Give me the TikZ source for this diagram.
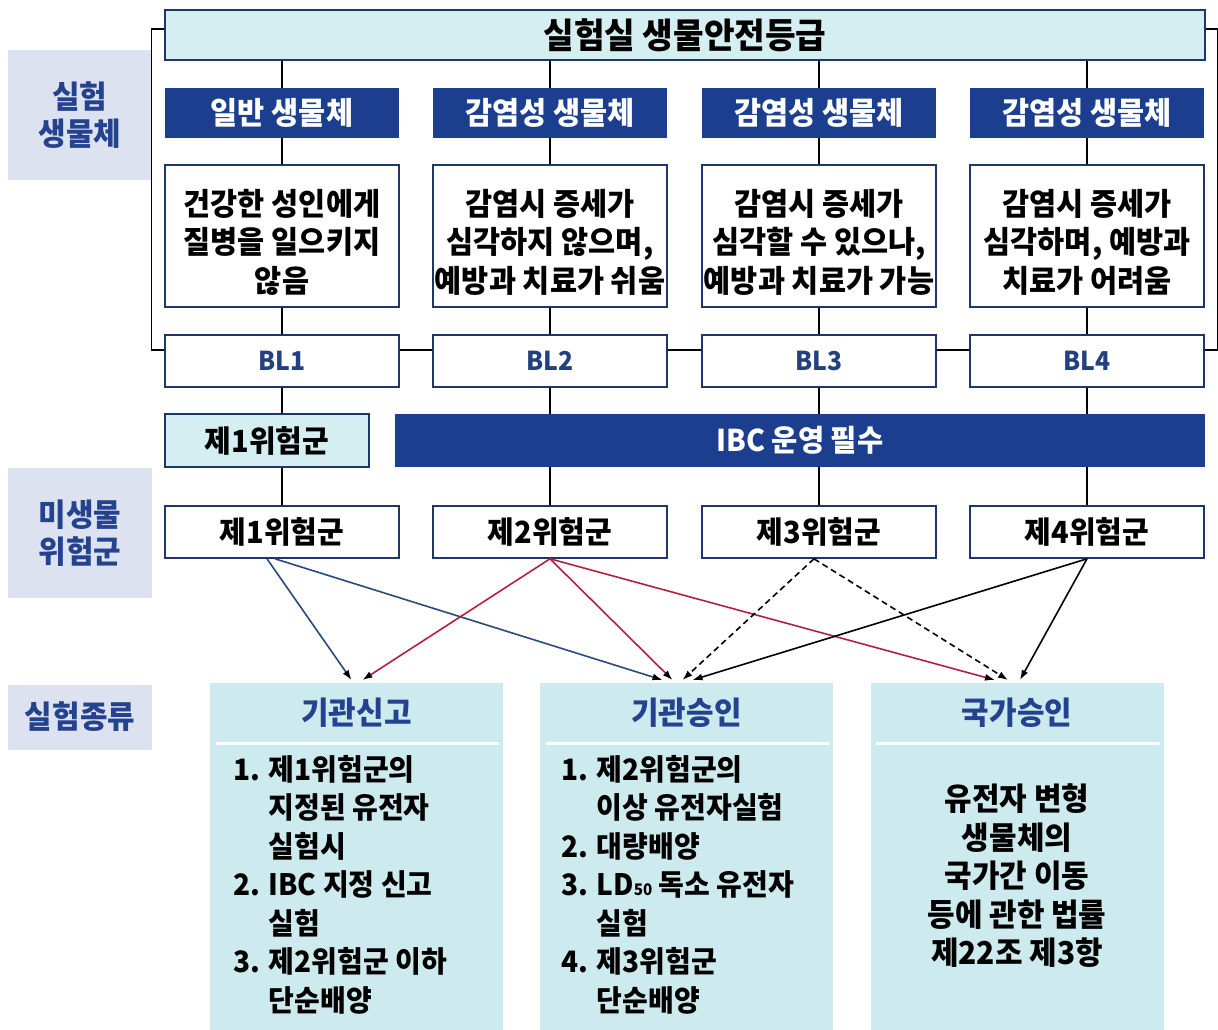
\documentclass[tikz,border=0pt]{standalone}
\usepackage{fontspec}
\setmainfont{Noto Sans CJK KR}[FakeStretch=0.95]
\usetikzlibrary{arrows.meta,calc}
\definecolor{navy}{HTML}{1B3E8F}
\definecolor{lightcyan}{HTML}{D5EEF2}
\definecolor{boxcyan}{HTML}{CDEBEE}
\definecolor{lav}{HTML}{DCE2EF}
\definecolor{labtext}{HTML}{24428E}
\definecolor{border}{HTML}{1E3668}
\definecolor{bltext}{HTML}{23407F}
\definecolor{arrblue}{HTML}{2B4A78}
\definecolor{arrred}{HTML}{B3213F}
\begin{document}
\begin{tikzpicture}[x=1pt,y=-1pt,
  every node/.style={font=\bfseries, inner sep=0pt},
  titlebox/.style={draw=border, line width=1.6pt, fill=lightcyan, minimum width=1040pt, minimum height=50pt, font=\bfseries\fontsize{35}{35}\selectfont},
  hdrbox/.style={fill=navy, text=white, minimum width=234pt, minimum height=50pt, font=\bfseries\fontsize{31}{31}\selectfont},
  descbox/.style={draw=border, line width=1.6pt, fill=white, minimum width=234pt, minimum height=142pt},
  desctext/.style={align=center, font=\bfseries\fontsize{31}{38.5}\selectfont},
  blbox/.style={draw=border, line width=1.6pt, fill=white, minimum width=234pt, minimum height=52pt, text=bltext, font=\bfseries\fontsize{26}{26}\selectfont},
  riskbox/.style={draw=border, line width=1.6pt, fill=white, minimum width=234pt, minimum height=52pt, font=\bfseries\fontsize{30.5}{30.5}\selectfont},
  labbox/.style={fill=lav, text=labtext, align=center, minimum width=144pt, font=\bfseries\fontsize{31.5}{37}\selectfont},
  bottombox/.style={fill=boxcyan, minimum width=293pt, minimum height=347pt, anchor=north},
  bothdr/.style={text=labtext, font=\bfseries\fontsize{31.5}{31.5}\selectfont},
  listtext/.style={align=left, anchor=north west, font=\bfseries\fontsize{29.5}{38.5}\selectfont},
  conn/.style={line width=1.4pt, black},
  arr/.style={line width=1.6pt, -{Latex[length=10pt,width=7pt,color=black]}},
  divider/.style={white, line width=3pt}
]
\useasboundingbox (0,0) rectangle (1218,1030);
\fill[white] (0,0) rectangle (1218,1030);

% left labels
\node[labbox, minimum height=130pt] (L1) at (80,115) {실험\\생물체};
\node[labbox, minimum height=130pt] (L2) at (80,533) {미생물\\위험군};
\node[labbox, minimum height=65pt] (L3) at (80,717) {실험종류};

% title
\node[titlebox] (title) at (685,35) {실험실 생물안전등급};

% headers
\node[hdrbox] (h1) at (282,113) {일반 생물체};
\node[hdrbox] (h2) at (550,113) {감염성 생물체};
\node[hdrbox] (h3) at (819,113) {감염성 생물체};
\node[hdrbox] (h4) at (1087,113) {감염성 생물체};

% descriptions
\node[descbox] (d1) at (282,236) {};
\node[descbox] (d2) at (550,236) {};
\node[descbox] (d3) at (819,236) {};
\node[descbox] (d4) at (1087,236) {};
\node[desctext] (d1t) at (282,242) {건강한 성인에게\\질병을 일으키지\\않음};
\node[desctext] (d2t) at (550,242) {감염시 증세가\\심각하지 않으며,\\예방과 치료가 쉬움};
\node[desctext] (d3t) at (819,242) {감염시 증세가\\심각할 수 있으나,\\예방과 치료가 가능};
\node[desctext] (d4t) at (1087,242) {감염시 증세가\\심각하며, 예방과\\치료가 어려움};

% BL
\node[blbox] (bl1) at (282,361) {BL1};
\node[blbox] (bl2) at (550,361) {BL2};
\node[blbox] (bl3) at (819,361) {BL3};
\node[blbox] (bl4) at (1087,361) {BL4};

% group row
\node[draw=border, line width=1.6pt, fill=lightcyan, minimum width=204pt, minimum height=53pt, font=\bfseries\fontsize{30.5}{30.5}\selectfont] (g1) at (267,440.5) {제1위험군};
\node[fill=navy, text=white, minimum width=810pt, minimum height=53pt, font=\bfseries\fontsize{30}{30}\selectfont] (ibc) at (800,440.5) {IBC 운영 필수};

% risk groups
\node[riskbox] (r1) at (282,532) {제1위험군};
\node[riskbox] (r2) at (550,532) {제2위험군};
\node[riskbox] (r3) at (819,532) {제3위험군};
\node[riskbox] (r4) at (1087,532) {제4위험군};

% vertical connectors
\foreach \i in {1,2,3,4}{
  \draw[conn] (title.south -| h\i) -- (h\i.north);
  \draw[conn] (h\i.south) -- (d\i.north);
  \draw[conn] (d\i.south) -- (bl\i.north);
}
\draw[conn] (bl1.south) -- (g1.north -| bl1);
\draw[conn] (g1.south -| r1) -- (r1.north);
\foreach \i in {2,3,4}{
  \draw[conn] (bl\i.south) -- (ibc.north -| bl\i);
  \draw[conn] (ibc.south -| r\i) -- (r\i.north);
}
% BL links
\draw[conn] ($(bl1.east)+(0,-11)$) -- ($(bl2.west)+(0,-11)$);
\draw[conn] ($(bl2.east)+(0,-11)$) -- ($(bl3.west)+(0,-11)$);
\draw[conn] ($(bl3.east)+(0,-11)$) -- ($(bl4.west)+(0,-11)$);
% brackets
\draw[conn] ($(title.west)+(0,-6)$) -- ++(-13,0) |- ($(bl1.west)+(0,-11)$);
\draw[conn] ($(title.east)+(0,-6)$) -- ++(12,0) |- ($(bl4.east)+(0,-11)$);

% bottom boxes
\node[bottombox] (b1) at (356.5,683) {};
\node[bottombox] (b2) at (686.5,683) {};
\node[bottombox] (b3) at (1017,683) {};
\draw[divider] ($(b1.north west)+(6,60)$) -- ($(b1.north east)+(-4,60)$);
\draw[divider] ($(b2.north west)+(6,60)$) -- ($(b2.north east)+(-4,60)$);
\draw[divider] ($(b3.north west)+(6,60)$) -- ($(b3.north east)+(-4,60)$);
\node[bothdr] (b1h) at (356.5,713) {기관신고};
\node[bothdr] (b2h) at (686.5,713) {기관승인};
\node[bothdr] (b3h) at (1017,713) {국가승인};

\node[listtext] (b1t) at (233,755) {1. 제1위험군의\\\phantom{1. }지정된 유전자\\\phantom{1. }실험시\\2. IBC 지정 신고\\\phantom{1. }실험\\3. 제2위험군 이하\\\phantom{1. }단순배양};
\node[listtext] (b2t) at (561,755) {1. 제2위험군의\\\phantom{1. }이상 유전자실험\\2. 대량배양\\3. LD{\fontsize{16}{16}\selectfont 50} 독소 유전자\\\phantom{1. }실험\\4. 제3위험군\\\phantom{1. }단순배양};
\node[align=center, font=\bfseries\fontsize{31.5}{38.5}\selectfont] (b3t) at (1017,876) {유전자 변형\\생물체의\\국가간 이동\\등에 관한 법률\\제22조 제3항};

% arrow end points
\coordinate (e1a) at ($(b1.north)+(-5,-3)$);
\coordinate (e1b) at ($(b1.north)+(6,-3)$);
\coordinate (e2a) at ($(b2.north)+(-24,-3)$);
\coordinate (e2b) at ($(b2.north)+(-14,-3)$);
\coordinate (e2c) at ($(b2.north)+(-4,-3)$);
\coordinate (e2d) at ($(b2.north)+(6,-3)$);
\coordinate (e3a) at ($(b3.north)+(-22,-3)$);
\coordinate (e3b) at ($(b3.north)+(-9,-3)$);
\coordinate (e3c) at ($(b3.north)+(3,-3)$);

\draw[arr, arrblue] ($(r1.south)+(-15,0)$) -- (e1a);
\draw[arr, arrblue] ($(r1.south)+(-7,0)$) -- (e2a);
\draw[arr, arrred] (r2.south) -- (e1b);
\draw[arr, arrred] (r2.south) -- (e2b);
\draw[arr, arrred] (r2.south) -- (e3a);
\draw[arr, dashed, dash pattern=on 6pt off 4pt] ($(r3.south)+(-5,0)$) -- (e2c);
\draw[arr, dashed, dash pattern=on 6pt off 4pt] ($(r3.south)+(-5,0)$) -- (e3b);
\draw[arr] (r4.south) -- (e2d);
\draw[arr] (r4.south) -- (e3c);
\end{tikzpicture}
\end{document}
